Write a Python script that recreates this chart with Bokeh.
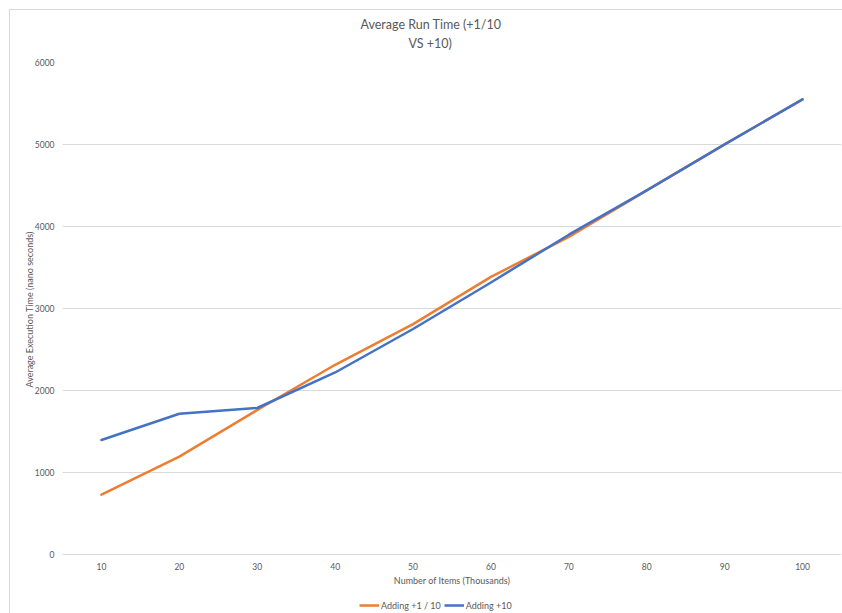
from bokeh.plotting import figure
from bokeh.layouts import column
from bokeh.models import Range1d, FixedTicker, Legend, LegendItem, Title
from bokeh.embed import file_html
from bokeh.resources import INLINE

# Number of items (thousands) on the x axis
items_thousands = [10, 20, 30, 40, 50, 60, 70, 80, 90, 100]
# Average execution time (nano seconds) for each strategy
adding_tenth = [731, 1194, 1762, 2314, 2810, 3386, 3873, 4440, 5002, 5550]
adding_ten = [1397, 1717, 1787, 2220, 2750, 3317, 3900, 4440, 5002, 5550]

series_names = ["Adding +1 / 10", "Adding +10"]
title_lines = ["Average Run Time (+1/10", "VS +10)"]
y_ticks = [0, 1000, 2000, 3000, 4000, 5000, 6000]

FONT = "Lato"
TEXT = "#595959"
GRID = "#D9D9D9"
ORANGE = "#ED7D31"
BLUE = "#4472C4"

# thin chart-area edge along the top and left, painted behind transparent canvases
edge_css = {
    "background-color": "white",
    "background-image": f"linear-gradient({GRID}, {GRID}), linear-gradient({GRID}, {GRID})",
    "background-size": "100% 1px, 1px 100%",
    "background-position": "9px 9px, 9px 9px",
    "background-repeat": "no-repeat",
}

p = figure(
    width=842, height=595,
    x_range=Range1d(5, 105), y_range=Range1d(-24, 6000),
    output_backend="svg", toolbar_location=None,
    min_border_left=62, min_border_right=1,
    min_border_top=62, min_border_bottom=39,
)
p.outline_line_color = None
p.background_fill_color = "white"
p.border_fill_alpha = 0

# axes
p.xaxis.ticker = FixedTicker(ticks=items_thousands)
p.yaxis.ticker = FixedTicker(ticks=y_ticks)
for ax in (p.xaxis, p.yaxis):
    ax.axis_line_color = None
    ax.major_tick_line_color = None
    ax.minor_tick_line_color = None
    ax.major_tick_out = 0
    ax.major_tick_in = 0
    ax.minor_tick_out = 0
    ax.minor_tick_in = 0
    ax.major_label_text_font = FONT
    ax.major_label_text_font_size = "8.5px"
    ax.major_label_text_color = TEXT
    ax.axis_label_text_font = FONT
    ax.axis_label_text_font_size = "9px"
    ax.axis_label_text_font_style = "normal"
    ax.axis_label_text_color = TEXT
p.xaxis.axis_label = "Number of Items (Thousands)"
p.yaxis.axis_label = "Average Execution Time (nano seconds)"
p.xaxis.major_label_standoff = 6
p.xaxis.axis_label_standoff = 2
p.yaxis.major_label_standoff = 8
p.yaxis.axis_label_standoff = -3

p.xgrid.grid_line_color = None
p.ygrid.ticker = FixedTicker(ticks=y_ticks)
p.ygrid.grid_line_color = GRID
p.ygrid.grid_line_width = 1

p.line(items_thousands, adding_tenth, line_color=ORANGE, line_width=2.5,
       line_join="round", line_cap="round")
p.line(items_thousands, adding_ten, line_color=BLUE, line_width=2.5,
       line_join="round", line_cap="round")

# two-line chart title, stacked outward from the plot area
p.add_layout(Title(text=" ", text_font_size="7.6px", standoff=0), "above")
p.add_layout(Title(text=title_lines[1], align="left", offset=346, standoff=2,
                   text_font=FONT, text_font_size="12.5px", text_font_style="normal",
                   text_color=TEXT), "above")
p.add_layout(Title(text=title_lines[0], align="left", offset=298, standoff=2,
                   text_font=FONT, text_font_size="12.5px", text_font_style="normal",
                   text_color=TEXT), "above")

# legend strip underneath the chart (its frame lines up with the chart's frame)
leg = figure(
    width=842, height=18, x_range=Range1d(0, 1), y_range=Range1d(0, 1),
    output_backend="svg", toolbar_location=None,
    x_axis_location=None, y_axis_location=None,
    min_border_left=0, min_border_right=0, min_border_top=0, min_border_bottom=0,
)
leg.outline_line_color = None
leg.background_fill_alpha = 0
leg.border_fill_alpha = 0
leg.xgrid.visible = False
leg.ygrid.visible = False
# key swatches: single undefined point, so only the legend entry shows
key_tenth = leg.line([float("nan")], [float("nan")], line_color=ORANGE, line_width=2.5)
key_ten = leg.line([float("nan")], [float("nan")], line_color=BLUE, line_width=2.5)

legend = Legend(
    items=[LegendItem(label=series_names[0], renderers=[key_tenth]),
           LegendItem(label=series_names[1], renderers=[key_ten])],
    location=(297, 2), orientation="horizontal",
    glyph_width=20, glyph_height=12, label_height=12,
    label_standoff=2, spacing=3, padding=0, margin=0,
    label_text_font=FONT, label_text_font_size="9px", label_text_color=TEXT,
    background_fill_alpha=0, border_line_color=None,
)
leg.add_layout(legend, "center")

page = column(p, leg, spacing=0, styles=edge_css)

open("out.html", "w").write(file_html(page, INLINE))
